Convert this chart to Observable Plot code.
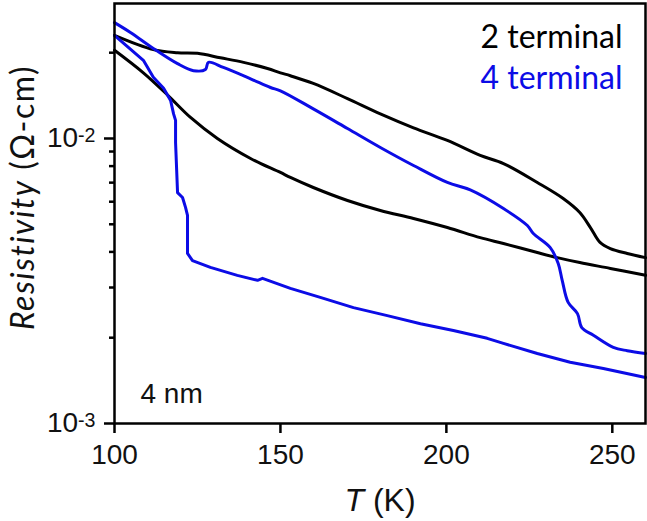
<!DOCTYPE html>
<html>
<head>
<meta charset="utf-8">
<script src="https://cdn.jsdelivr.net/npm/d3@7"></script>
<script src="https://cdn.jsdelivr.net/npm/@observablehq/plot@0.6"></script>
<style>
  html, body { margin: 0; padding: 0; background: #fff; }
  #chart svg { display: block; }
</style>
</head>
<body>
<div id="chart"></div>
<script>
// 2 terminal, upper branch: [T (K), resistivity (Ω-cm)]
const twoTermUpper = [
  [100, 0.0230], [111.7, 0.0205], [119, 0.0200], [125, 0.0199], [131.9, 0.0192],
  [138.9, 0.0185], [146.1, 0.0176], [150, 0.0170], [153, 0.0166], [159.9, 0.0156],
  [170.2, 0.0138], [180.1, 0.0122], [190.1, 0.0109], [200.3, 0.00984], [210.2, 0.00872],
  [217.2, 0.00817], [227.4, 0.00701], [235.2, 0.00616], [240.2, 0.0055], [243.4, 0.00487],
  [246.3, 0.00432], [249.4, 0.00411], [254.5, 0.00395], [260, 0.00382]
];
// 2 terminal, lower branch
const twoTermLower = [
  [100, 0.0204], [108.7, 0.0170], [116, 0.0142], [122.9, 0.01185], [131, 0.0100],
  [141, 0.00851], [150, 0.0076], [153, 0.0073], [159.9, 0.00673], [170.2, 0.00606],
  [180.1, 0.00559], [190.1, 0.00524], [200.3, 0.00487], [210.2, 0.00449], [217.2, 0.00428],
  [227.4, 0.00398], [233.4, 0.00382], [240.2, 0.00367], [249.4, 0.0035], [260, 0.00331]
];
// 4 terminal, upper branch
const fourTermUpper = [
  [100, 0.0255], [104.8, 0.02355], [111.7, 0.0207], [119, 0.0183], [123.8, 0.0173],
  [127.4, 0.01746], [128.3, 0.0185], [132.8, 0.01775], [141, 0.0162], [147, 0.0151],
  [150, 0.0147], [159.9, 0.0127], [170.2, 0.01084], [180.1, 0.0093], [190.1, 0.00804],
  [200.3, 0.00701], [207.2, 0.0066], [217.2, 0.00568], [224.4, 0.00495], [226.2, 0.00464],
  [231.3, 0.00414], [233.7, 0.00364], [234.9, 0.00318], [236.7, 0.00266], [239.5, 0.00243],
  [240.8, 0.00217], [244.3, 0.00204], [250.3, 0.00185], [254.5, 0.0018], [260, 0.00176]
];
// 4 terminal, lower branch
const fourTermLower = [
  [100, 0.0230], [108.7, 0.0188], [111.7, 0.0164], [114.8, 0.0150], [116.9, 0.0136],
  [117.8, 0.0122], [118.4, 0.01157], [118.4, 0.00968], [119.0, 0.00646], [120.5, 0.00621],
  [121.4, 0.00573], [122.0, 0.00537], [122.0, 0.00395], [123.5, 0.00373], [128.9, 0.00353],
  [137.0, 0.00331], [143.1, 0.00318], [144.6, 0.00323], [153, 0.00298], [162, 0.00277],
  [172, 0.00255], [182.2, 0.00239], [192.2, 0.00224], [202.1, 0.00212], [212.3, 0.00199],
  [217.2, 0.00191], [227.4, 0.00176], [237.3, 0.00164], [247.3, 0.00156], [260, 0.00145]
];

const xTicks = [100, 150, 200, 250];
const yMajorTicks = [1e-3, 1e-2];
const yMajorLabels = ["10^-3", "10^-2"];
const yMinorTicks = [2e-3, 3e-3, 4e-3, 5e-3, 6e-3, 7e-3, 8e-3, 9e-3, 2e-2];
const legendLabels = ["2 terminal", "4 terminal"];
const BLUE = "#0c0ce6";

const arial = "Liberation Sans";
const calibri = "Lato";

const lineOpts = (data, stroke) => Plot.line(data, {
  x: d => d[0], y: d => d[1], stroke, strokeWidth: 3, curve: "catmull-rom"
});

const chart = Plot.plot({
  width: 647,
  height: 521,
  marginLeft: 114,
  marginRight: 2,
  marginTop: 3,
  marginBottom: 98,
  style: {background: "#fff", color: "#000"},
  x: {domain: [100, 260]},
  y: {type: "log", domain: [1e-3, 0.02976]},
  marks: [
    lineOpts(twoTermUpper, "#000"),
    lineOpts(twoTermLower, "#000"),
    lineOpts(fourTermUpper, BLUE),
    Plot.line(fourTermLower, {x: d => d[0], y: d => d[1], stroke: BLUE, strokeWidth: 3}),
    Plot.frame({stroke: "#000", strokeWidth: 2.5}),
    Plot.axisX({ticks: xTicks, tickSize: 10, tickPadding: 11, strokeWidth: 2.5,
      fontSize: 28, fontFamily: arial, fill: "#111", label: null}),
    Plot.axisY({ticks: yMajorTicks, tickSize: 10, tickPadding: 9, strokeWidth: 2.5,
      fontSize: 28, fontFamily: arial, fill: "#111", label: null,
      tickFormat: d => yMajorLabels[yMajorTicks.indexOf(d)]}),
    Plot.axisY({ticks: yMinorTicks, tickSize: 5, strokeWidth: 2.5, tickFormat: () => "", label: null}),
    Plot.text([legendLabels[0]], {frameAnchor: "top-right", textAnchor: "end", lineAnchor: "bottom",
      dx: -23, dy: 44, fontSize: 32, fontFamily: calibri, fill: "#000"}),
    Plot.text([legendLabels[1]], {frameAnchor: "top-right", textAnchor: "end", lineAnchor: "bottom",
      dx: -23, dy: 85, fontSize: 32, fontFamily: calibri, fill: BLUE}),
    Plot.text(["4 nm"], {frameAnchor: "bottom-left", textAnchor: "start", lineAnchor: "bottom",
      dx: 26, dy: -21, fontSize: 28, fontFamily: arial, fill: "#111"}),
    Plot.text(["T (K)"], {frameAnchor: "bottom", textAnchor: "middle", lineAnchor: "bottom",
      dy: 87, fontSize: 32, fontFamily: arial, fill: "#111"}),
    Plot.text(["Resistivity (Ω-cm)"], {frameAnchor: "left", textAnchor: "middle", lineAnchor: "bottom",
      rotate: -90, dx: -81, dy: -16, fontSize: 32, fontFamily: calibri, fill: "#111"})
  ]
});

document.getElementById("chart").appendChild(chart);

// Rich text: superscripts on y tick labels, italics on axis titles
d3.select(chart).selectAll("text").each(function() {
  const el = d3.select(this);
  const s = this.textContent;
  const m = /^10\^(-\d)$/.exec(s);
  if (m) {
    el.text(null);
    el.append("tspan").text("10");
    el.append("tspan").attr("dy", "-0.3em").attr("font-size", "0.7em").text(m[1]);
  } else if (s === "T (K)") {
    el.text(null);
    el.append("tspan").attr("font-style", "italic").text("T");
    el.append("tspan").text(" (K)");
  } else if (s === "Resistivity (Ω-cm)") {
    el.text(null);
    el.attr("letter-spacing", "1.5px");
    el.append("tspan").attr("font-style", "italic").text("Resistivity");
    el.append("tspan").text(" (Ω-cm)");
  }
});
</script>
</body>
</html>
